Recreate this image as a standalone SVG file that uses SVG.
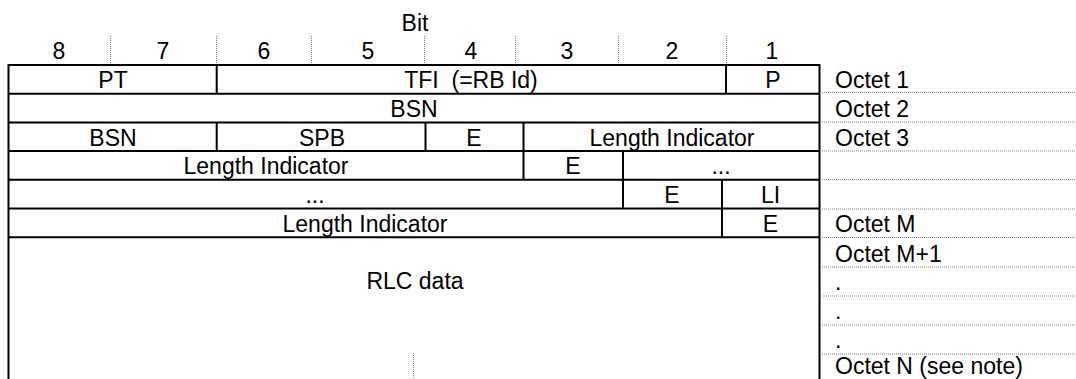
<svg xmlns="http://www.w3.org/2000/svg" width="1076" height="379" viewBox="0 0 1076 379">
<style>
text{font-family:"Liberation Sans",Arial,sans-serif;font-size:23px;fill:#000}
.c{text-anchor:middle}
.b{stroke:#000;stroke-width:2;fill:none}
.d{stroke:#808080;stroke-width:1;stroke-dasharray:1 1;fill:none}
</style>
<rect width="1076" height="379" fill="#fff"/>
<g id="header">
<text class="c" x="415" y="31">Bit</text>
<text class="c" x="59" y="59">8</text>
<text class="c" x="163" y="59">7</text>
<text class="c" x="264" y="59">6</text>
<text class="c" x="368" y="59">5</text>
<text class="c" x="471" y="59">4</text>
<text class="c" x="567" y="59">3</text>
<text class="c" x="672" y="59">2</text>
<text class="c" x="772" y="59">1</text>
<path class="d" d="M110.5 36V64M216.5 36V64M311.5 36V64M424.5 36V64M515.5 36V64M618.5 36V64M726.5 36V64"/>
</g>
<g id="connectors">
<path class="b" d="M8.5 65V379M819.5 65V379M7.5 65H820.5M7.5 93.7H820.5M7.5 122.4H820.5M7.5 151.1H820.5M7.5 179.8H820.5M7.5 208.5H820.5M7.5 237.2H820.5"/>
<path class="b" d="M216.7 65V93.7M726 65V93.7M216.7 122.4V151.1M425.5 122.4V151.1M523.5 122.4V151.1M523.5 151.1V179.8M623 151.1V179.8M623 179.8V208.5M722 179.8V208.5M722 208.5V237.2"/>
<path class="d" d="M822 92.5H1076M822 122H1076M822 151H1076M822 179.5H1076M822 209H1076M822 237.5H1076M822 267H1076M822 296H1076M822 325H1076M822 354H1076"/>
<path class="d" d="M413.5 353V379"/>
</g>
<g id="row1">
<text class="c" x="113" y="88">PT</text>
<text class="c" x="471" y="88" xml:space="preserve">TFI  (=RB Id)</text>
<text class="c" x="773" y="88">P</text>
</g>
<g id="row2">
<text class="c" x="414" y="117">BSN</text>
</g>
<g id="row3">
<text class="c" x="113" y="145.5">BSN</text>
<text class="c" x="322" y="145.5">SPB</text>
<text class="c" x="474" y="145.5">E</text>
<text class="c" x="672" y="145.5">Length Indicator</text>
</g>
<g id="row4">
<text class="c" x="266" y="174">Length Indicator</text>
<text class="c" x="573" y="174">E</text>
<text class="c" x="721" y="174">...</text>
</g>
<g id="row5">
<text class="c" x="315" y="203">...</text>
<text class="c" x="672" y="203">E</text>
<text class="c" x="770.5" y="203">LI</text>
</g>
<g id="row6">
<text class="c" x="365" y="231.5">Length Indicator</text>
<text class="c" x="770.5" y="231.5">E</text>
</g>
<g id="data">
<text class="c" x="415" y="289">RLC data</text>
</g>
<g id="octets">
<text x="835" y="88">Octet 1</text>
<text x="835" y="117">Octet 2</text>
<text x="835" y="145.5">Octet 3</text>
<text x="835" y="231.5">Octet M</text>
<text x="835" y="261.5">Octet M+1</text>
<text x="835" y="290">.</text>
<text x="835" y="319">.</text>
<text x="835" y="348">.</text>
<text x="835" y="373.5">Octet N (see note)</text>
</g>
</svg>
